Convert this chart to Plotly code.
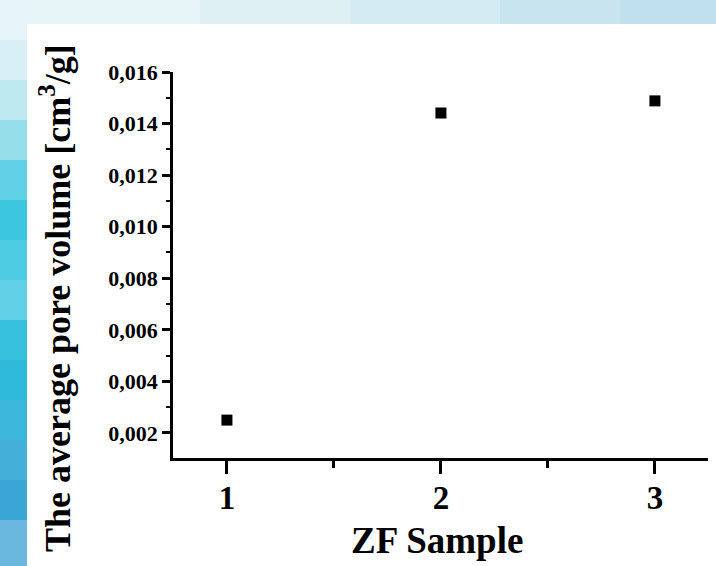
import plotly.graph_objects as go

# ---- data ----
samples = [1, 2, 3]
sample_labels = ["1", "2", "3"]
pore_volume = [0.00250, 0.01441, 0.01488]
y_ticks = [0.002, 0.004, 0.006, 0.008, 0.010, 0.012, 0.014, 0.016]

W, H = 716, 566
L, R, T, B = 173, 8, 72, 108
pw, ph = W - L - R, H - T - B

def px_x(x):
    return (x - L) / pw

def px_y(y):
    return (H - B - y) / ph

FONT = "Liberation Serif"

fig = go.Figure()
fig.add_trace(go.Scatter(
    x=samples, y=pore_volume, mode="markers",
    marker=dict(symbol="square", size=11, color="black"),
    showlegend=False, cliponaxis=False,
))

shapes = []
# background decorative strips (left and top)
strip_cols = [
    (0, 40, "#e4f4f8"), (40, 80, "#d8f0f5"), (80, 120, "#bfe9f1"),
    (120, 160, "#96deea"), (160, 200, "#5fd0e6"), (200, 240, "#3cc6e0"),
    (240, 280, "#4ccbe3"), (280, 320, "#5fd0e5"), (320, 360, "#38c0df"),
    (360, 400, "#2fbadc"), (400, 440, "#3db6dc"), (440, 480, "#44b0da"),
    (480, 520, "#3aa6d6"), (520, 566, "#6ab8e0"),
]
for y0, y1, c in strip_cols:
    shapes.append(dict(type="rect", xref="paper", yref="paper",
                       x0=px_x(0), x1=px_x(27), y0=px_y(y1), y1=px_y(y0),
                       fillcolor=c, line=dict(width=0), layer="below"))
top_cols = [(27, 200, "#e6f4f8"), (200, 350, "#dff0f5"), (350, 500, "#d4ebf2"),
            (500, 620, "#c8e5ef"), (620, 716, "#bfe0ec")]
for x0, x1, c in top_cols:
    shapes.append(dict(type="rect", xref="paper", yref="paper",
                       x0=px_x(x0), x1=px_x(x1), y0=px_y(24), y1=px_y(0),
                       fillcolor=c, line=dict(width=0), layer="below"))
# white panel
shapes.append(dict(type="rect", xref="paper", yref="paper",
                   x0=px_x(27), x1=px_x(716), y0=px_y(566), y1=px_y(24),
                   fillcolor="white", line=dict(width=0), layer="below"))

annotations = [
    dict(text="<b>The average pore volume [cm<sup>3</sup>/g]</b>", textangle=-90,
         xref="paper", yref="paper", x=px_x(55), y=px_y(298),
         xanchor="center", yanchor="middle", showarrow=False,
         font=dict(family=FONT, size=36, color="black")),
    dict(text="<b>ZF Sample</b>", xref="paper", yref="paper",
         x=px_x(437), y=px_y(540), xanchor="center", yanchor="middle",
         showarrow=False, font=dict(family=FONT, size=37, color="black")),
]

fig.update_layout(
    width=W, height=H,
    margin=dict(l=L, r=R, t=T, b=B),
    paper_bgcolor="#e2f3f7", plot_bgcolor="rgba(0,0,0,0)",
    separators=",.",
    shapes=shapes, annotations=annotations,
    font=dict(family=FONT, color="black"),
)
fig.update_xaxes(
    range=[0.748, 3.248], showgrid=False, zeroline=False,
    showline=True, linecolor="black", linewidth=2.5,
    tickmode="array", tickvals=samples, ticktext=sample_labels,
    ticks="outside", ticklen=13, tickwidth=2.5, tickcolor="black",
    tickfont=dict(family=FONT, size=33, color="black", weight="bold"),
    ticklabelstandoff=-4,
    minor=dict(tickmode="linear", tick0=0.5, dtick=0.5, ticks="outside",
               ticklen=7, tickwidth=2.5, tickcolor="black"),
)
fig.update_yaxes(
    range=[0.00103, 0.016], showgrid=False, zeroline=False,
    showline=True, linecolor="black", linewidth=2.5,
    tickmode="array", tickvals=y_ticks, tickformat=".3f",
    ticks="outside", ticklen=8, tickwidth=2.5, tickcolor="black",
    tickfont=dict(family=FONT, size=22, color="black", weight="bold"),
    minor=dict(tickmode="linear", tick0=0.001, dtick=0.001, ticks="outside",
               ticklen=4, tickwidth=2, tickcolor="black"),
)

fig.write_html("out.html",
               config={"displayModeBar": False},
               post_script="document.body.style.margin='0';")
